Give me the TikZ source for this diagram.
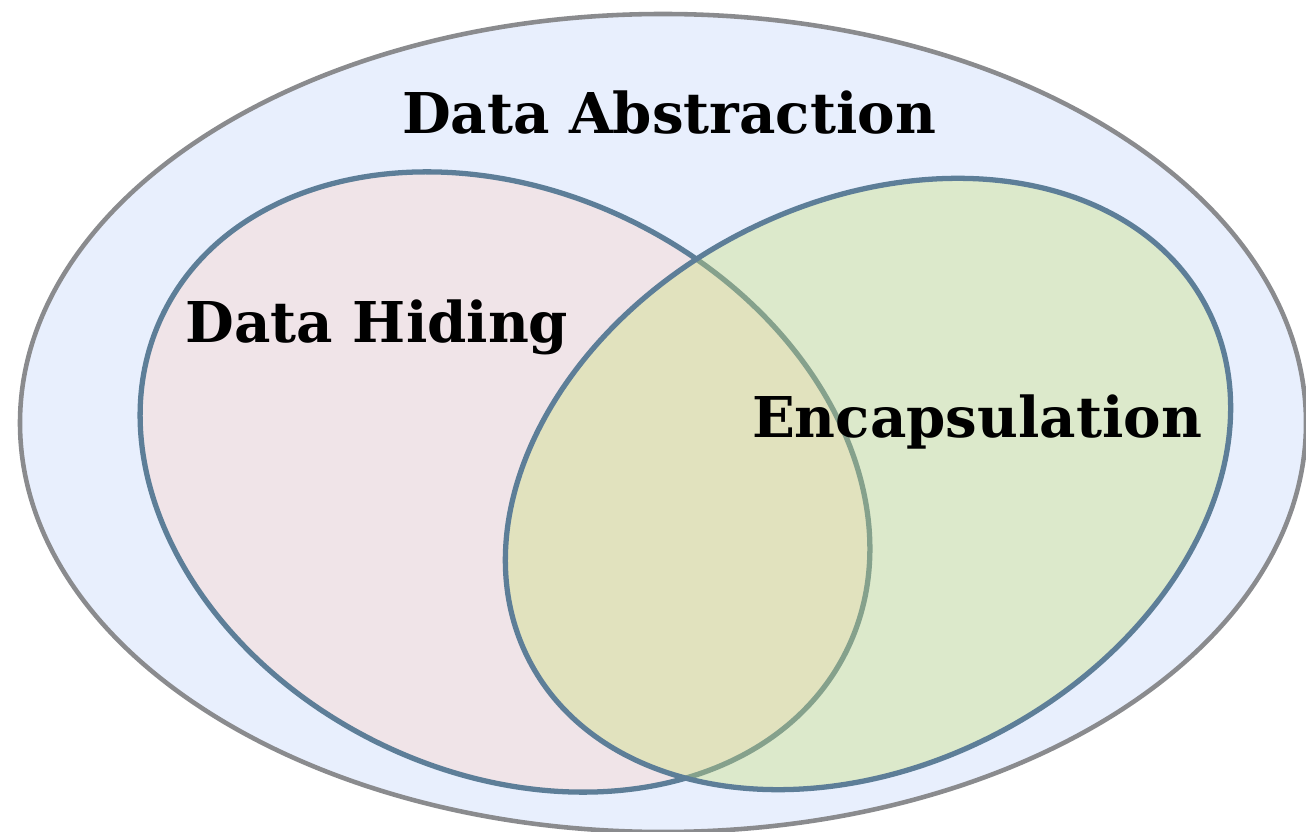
\documentclass[tikz,border=0pt]{standalone}
\usepackage{fontspec}
\setmainfont{DejaVu Serif}
\usetikzlibrary{positioning}
\definecolor{cOuterFill}{RGB}{232, 239, 253}
\definecolor{cOuterDraw}{RGB}{138, 139, 142}
\definecolor{cHideFill}{RGB}{240, 228, 232}
\definecolor{cEncFill}{RGB}{202, 223, 120}
\definecolor{cSetDraw}{RGB}{93, 126, 152}
\tikzset{
    % --- set styles ---
    styleOuter/.style={
        draw=cOuterDraw, fill=cOuterFill, line width=2.6pt
    },
    styleHide/.style={
        draw=cSetDraw, fill=cHideFill, line width=3pt
    },
    styleEnc/.style={
        draw=cSetDraw, fill=cEncFill, fill opacity=0.37, draw opacity=1,
        line width=3pt
    },
    % --- labels ---
    setLabel/.style={
        anchor=base, inner sep=0pt, text=black,
        font=\bfseries\fontsize{32}{37}\selectfont
    }
}

\begin{document}
\begin{tikzpicture}

	\useasboundingbox (0,0) rectangle (26.12,16.62);

	% =========================================================
	% 1. Sets
	% =========================================================
	\coordinate (cOuter) at (13.26,8.16);
	\coordinate (cHide) at (10.10,6.98);
	\coordinate (cEnc) at (17.36,6.94);

	\path [styleOuter] (cOuter) ellipse [x radius=12.86cm, y radius=8.18cm];
	\path [styleHide] (cHide) ellipse [x radius=7.62cm, y radius=5.80cm, rotate=-26.4];
	\path [styleEnc] (cEnc) ellipse [x radius=7.64cm, y radius=5.62cm, rotate=27.7];

	% =========================================================
	% 2. Labels
	% =========================================================
	\node [setLabel] (lAbs) at (13.38,13.94) {Data Abstraction};
	\node [setLabel] (lHide) at (7.54,9.76) {Data Hiding};
	\node [setLabel] (lEnc) at (19.54,7.86) {Encapsulation};

\end{tikzpicture}
\end{document}
